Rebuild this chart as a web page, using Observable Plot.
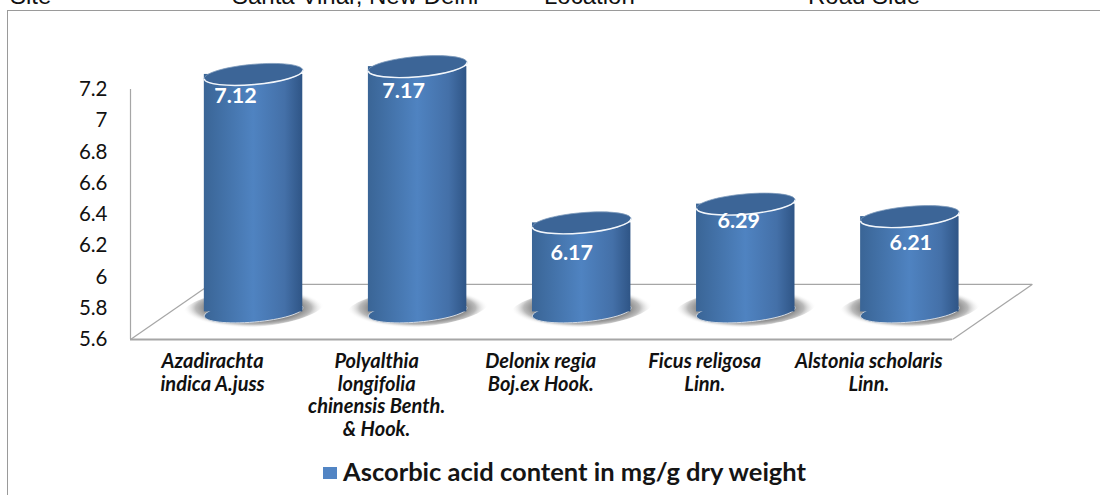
<!DOCTYPE html>
<html>
<head>
<meta charset="utf-8">
<script src="https://cdn.jsdelivr.net/npm/d3@7"></script>
<script src="https://cdn.jsdelivr.net/npm/@observablehq/plot@0.6"></script>
<style>
  html, body { margin: 0; padding: 0; background: #fff; }
  #page { position: relative; width: 1100px; height: 495px; overflow: hidden; }
  #page svg { display: block; position: absolute; left: 0; top: 0; }
  .frame { position: absolute; left: 7px; top: 10px; width: 1200px; height: 600px;
           border-left: 1px solid #9a9a9a; border-top: 1px solid #9a9a9a; }
  .head { position: absolute; top: -16px; font: 24px/24px "Liberation Sans", Arial, sans-serif; color: #111; white-space: nowrap; }
  .legend { position: absolute; left: 323px; top: 455px; display: flex; align-items: center;
            font: bold 25.5px/32px Lato, sans-serif; color: #151515; white-space: nowrap; }
  .legend i { display: block; width: 14px; height: 12px; margin: 3px 6px 0 0; background: #5285c4; }
</style>
</head>
<body>
<div id="page">
  <div class="head" style="left:10px">Site</div>
  <div class="head" style="left:232px">Santa Vihar, New Delhi</div>
  <div class="head" style="left:544px">Location</div>
  <div class="head" style="left:808px">Road Side</div>
  <div class="frame"></div>
  <div class="legend"><i></i><span id="legendText"></span></div>
</div>
<script>
const species = [
  "Azadirachta\nindica A.juss",
  "Polyalthia\nlongifolia\nchinensis Benth.\n& Hook.",
  "Delonix regia\nBoj.ex Hook.",
  "Ficus religosa\nLinn.",
  "Alstonia scholaris\nLinn."
];
const ascorbic = [7.12, 7.17, 6.17, 6.29, 6.21];
const yTicks = [5.6, 5.8, 6, 6.2, 6.4, 6.6, 6.8, 7, 7.2];
const seriesName = "Ascorbic acid content in mg/g dry weight";
document.getElementById("legendText").textContent = seriesName;

// Pseudo-3D floor, in data units (x = category position, y = value)
const xDomain = [-0.75, 4.26], yDomain = [5.6, 7.2];
const depthX = 0.4875, depthY = 0.353;
const halfBar = 0.3;
const labelNudge = [[-18, 22], [-14, 24], [-10, 30], [-7, 17], [1, 26]];

const rows = ascorbic.map((v, i) => ({
  i, v,
  top: v + depthY / 2,
  base: yDomain[0] + depthY / 2
}));

function ellipse(ratio, lowerOnly) {
  return {
    draw(ctx, size) {
      const a = Math.sqrt(size / Math.PI), b = a * ratio, t = -5 * Math.PI / 180, k = 0.5523;
      const c = Math.cos(t), s = Math.sin(t);
      const X = (x, y) => x * c - y * s, Y = (x, y) => x * s + y * c;
      const C = (x1, y1, x2, y2, x3, y3) =>
        ctx.bezierCurveTo(X(x1, y1), Y(x1, y1), X(x2, y2), Y(x2, y2), X(x3, y3), Y(x3, y3));
      ctx.moveTo(X(a, 0), Y(a, 0));
      C(a, k * b, k * a, b, 0, b);
      C(-k * a, b, -a, k * b, -a, 0);
      if (lowerOnly) return;
      C(-a, -k * b, -k * a, -b, 0, -b);
      C(k * a, -b, a, -k * b, a, 0);
      ctx.closePath();
    }
  };
}
const tilted = ellipse(0.205, false), rim = ellipse(0.205, true), pool = ellipse(0.27, false);

const defs = () => {
  const g = document.createElementNS("http://www.w3.org/2000/svg", "defs");
  g.innerHTML = `
    <linearGradient id="cyl" x1="0" x2="1" y1="0" y2="0">
      <stop offset="0" stop-color="#3a6596"/>
      <stop offset="0.5" stop-color="#4f83c1"/>
      <stop offset="0.82" stop-color="#4470a8"/>
      <stop offset="1" stop-color="#2f5586"/>
    </linearGradient>
    <radialGradient id="shade">
      <stop offset="0.68" stop-color="#8a8a8a"/>
      <stop offset="0.82" stop-color="#bbbbbb"/>
      <stop offset="1" stop-color="#fff" stop-opacity="0"/>
    </radialGradient>`;
  return g;
};

const chart = Plot.plot({
  width: 1100,
  height: 495,
  marginLeft: 130,
  marginRight: 148,
  marginTop: 89,
  marginBottom: 156,
  style: { background: "transparent", overflow: "visible" },
  x: { domain: xDomain, label: null },
  y: { domain: yDomain, label: null },
  marks: [
    defs,
    Plot.ruleX([xDomain[0]], { y1: yDomain[0], y2: yDomain[1], stroke: "#a6a6a6", strokeWidth: 1.2 }),
    Plot.ruleY([yDomain[0]], { x1: xDomain[0], x2: xDomain[1], stroke: "#a6a6a6", strokeWidth: 2 }),
    Plot.ruleY([yDomain[0] + depthY], { x1: xDomain[0] + depthX, x2: xDomain[1] + depthX, stroke: "#a6a6a6", strokeWidth: 1.2 }),
    Plot.link(xDomain, {
      x1: d => d, x2: d => d + depthX,
      y1: () => yDomain[0], y2: () => yDomain[0] + depthY,
      stroke: "#a6a6a6", strokeWidth: 1.2
    }),
    Plot.dot(rows, { x: "i", y: "base", dy: -4, r: 71, symbol: pool, fill: "url(#shade)", stroke: "none" }),
    Plot.dot(rows, { x: "i", y: "base", r: 49.5, symbol: tilted, fill: "url(#cyl)", stroke: "#d5dbe3", strokeWidth: 1 }),
    Plot.rect(rows, { x1: d => d.i - halfBar, x2: d => d.i + halfBar, y1: "base", y2: "top", fill: "url(#cyl)" }),
    Plot.dot(rows, { x: "i", y: "top", r: 49.5, symbol: tilted, fill: "#3c6597", stroke: "#7f9cbd", strokeWidth: 0.8 }),
    Plot.dot(rows, { x: "i", y: "top", r: 49.5, symbol: rim, fill: "none", stroke: "#f2f6fb", strokeWidth: 1.4 }),
    ...rows.map((d, j) => Plot.text([d], {
      x: "i", y: "top", text: r => r.v.toFixed(2),
      dx: labelNudge[j][0], dy: labelNudge[j][1],
      fill: "#fff", fontFamily: "Lato, sans-serif", fontWeight: 700, fontSize: 21.5
    })),
    Plot.axisY({
      ticks: yTicks, tickFormat: d => String(d), tickSize: 0, tickPadding: 23, label: null,
      fontFamily: "Lato, sans-serif", fontSize: 20.5, fill: "#111"
    }),
    Plot.axisX({
      ticks: [0, 1, 2, 3, 4], tickFormat: i => species[i], tickSize: 0, tickPadding: 13, label: null,
      dx: -41, lineHeight: 1.12, lineAnchor: "top",
      fontFamily: "Lato, sans-serif", fontStyle: "italic", fontWeight: 700, fontSize: 20, fill: "#111"
    })
  ]
});
document.getElementById("page").appendChild(chart);
</script>
</body>
</html>
